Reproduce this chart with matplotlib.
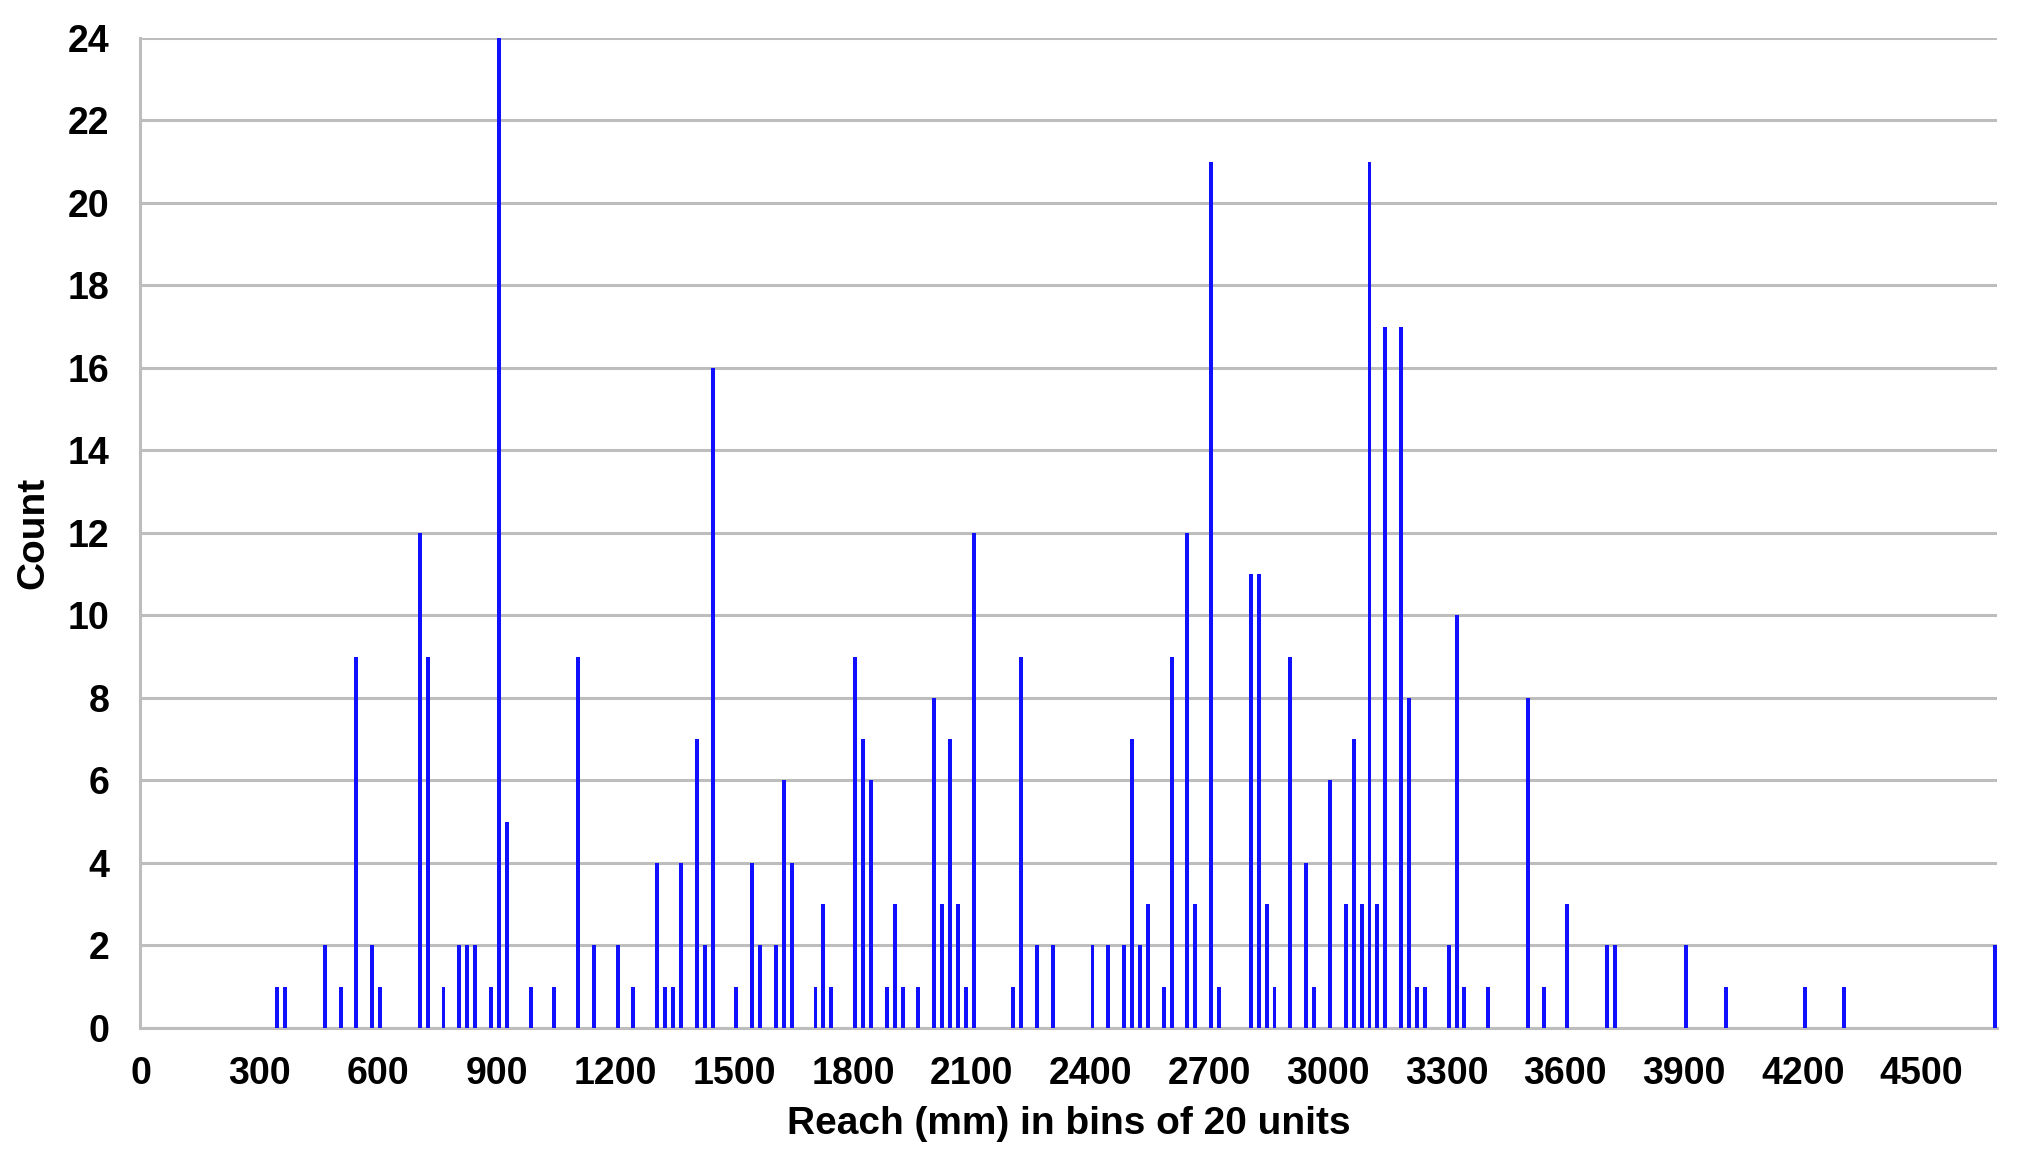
import matplotlib
matplotlib.use("agg")
import matplotlib.pyplot as plt
from matplotlib import rcParams
import numpy as np

rcParams['font.family'] = ["Liberation Sans", "DejaVu Sans"]
rcParams['font.weight'] = "bold"

# bin positions (mm) and counts
reach = [340, 360, 460, 500, 540, 580, 600, 700, 720, 760,
         800, 820, 840, 880, 900, 920, 980, 1040, 1100, 1140,
         1200, 1240, 1300, 1320, 1340, 1360, 1400, 1420, 1440, 1500,
         1540, 1560, 1600, 1620, 1640, 1700, 1720, 1740, 1800, 1820,
         1840, 1880, 1900, 1920, 1960, 2000, 2020, 2040, 2060, 2080,
         2100, 2200, 2220, 2260, 2300, 2400, 2440, 2480, 2500, 2520,
         2540, 2580, 2600, 2640, 2660, 2700, 2720, 2800, 2820, 2840,
         2860, 2900, 2940, 2960, 3000, 3040, 3060, 3080, 3100, 3120,
         3140, 3180, 3200, 3220, 3240, 3300, 3320, 3340, 3400, 3500,
         3540, 3600, 3700, 3720, 3900, 4000, 4200, 4300, 4680]
counts = [1, 1, 2, 1, 9, 2, 1, 12, 9, 1,
          2, 2, 2, 1, 24, 5, 1, 1, 9, 2,
          2, 1, 4, 1, 1, 4, 7, 2, 16, 1,
          4, 2, 2, 6, 4, 1, 3, 1, 9, 7,
          6, 1, 3, 1, 1, 8, 3, 7, 3, 1,
          12, 1, 9, 2, 2, 2, 2, 2, 7, 2,
          3, 1, 9, 12, 3, 21, 1, 11, 11, 3,
          1, 9, 4, 1, 6, 3, 7, 3, 21, 3,
          17, 17, 8, 1, 1, 2, 10, 1, 1, 8,
          1, 3, 2, 2, 2, 1, 1, 1, 2]

x_ticks = np.arange(0, 4501, 300)
y_ticks = np.arange(0, 25, 2)

fig = plt.figure(figsize=(20.23, 11.58), dpi=100)
ax = fig.add_axes([0.0692, 0.1123, 0.9178, 0.8549])

# bars sit just right of the bin value, like in the original
ax.bar(reach, counts, width=10, align="edge", color="#1010ff",
       edgecolor="none", zorder=3)

ax.set_xlim(-2, 4690)
ax.set_ylim(0, 24)
ax.set_xticks(x_ticks)
ax.set_yticks(y_ticks)
ax.tick_params(axis='x', length=0, labelsize=27, pad=20)
ax.tick_params(axis='y', length=0, labelsize=27, pad=22)
for lab in ax.get_xticklabels() + ax.get_yticklabels():
    lab.set_fontweight("bold")

ax.yaxis.grid(True, color="#bdbdbd", lw=2.2, zorder=0)
ax.xaxis.grid(False)
for side in ["top", "right"]:
    ax.spines[side].set_visible(False)
for side in ["left", "bottom"]:
    ax.spines[side].set_color("#bdbdbd")
    ax.spines[side].set_linewidth(2.2)

ax.set_xlabel("Reach (mm) in bins of 20 units", fontsize=28, fontweight="bold", labelpad=10)
ax.set_ylabel("Count", fontsize=28, fontweight="bold", labelpad=12)

fig.savefig("out.png", dpi=100)
